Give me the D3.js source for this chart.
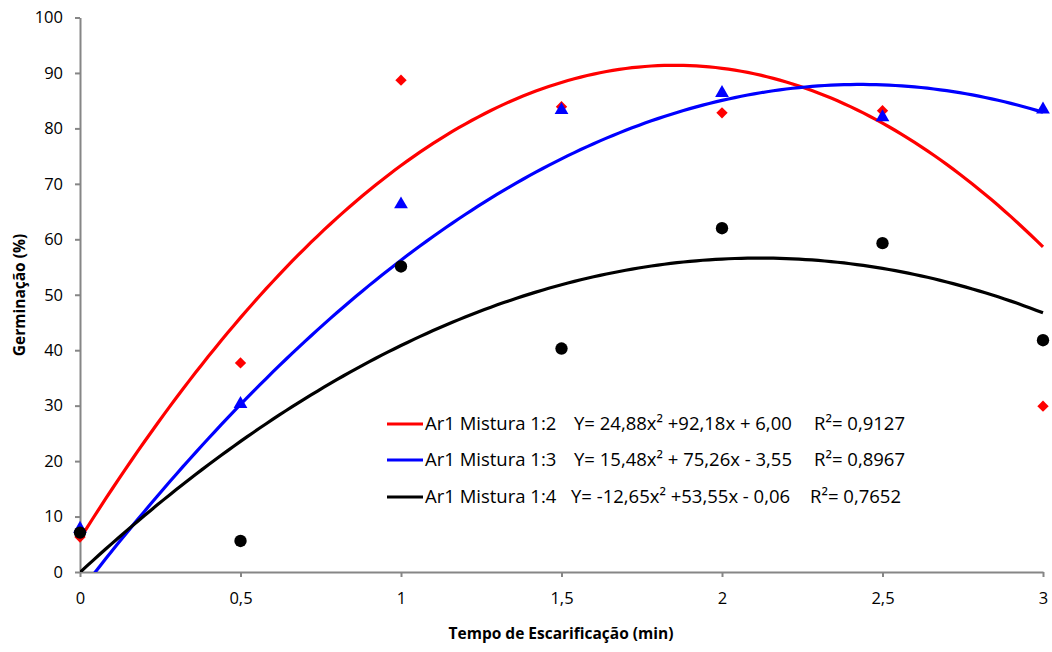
<!DOCTYPE html>
<html>
<head>
<meta charset="utf-8">
<script src="https://cdn.jsdelivr.net/npm/d3@7"></script>
<style>
  body { margin: 0; background: #fff; }
  text { font-family: "Open Sans", Carlito, Calibri, sans-serif; fill: #000; }
</style>
</head>
<body>
<div id="chart"></div>
<script>
var svgWidth = 1052;
var svgHeight = 652;

var margin = { top: 17.5, bottom: 80, right: 9, left: 80 };
var width = 1043 - margin.left;
var height = 572 - margin.top;

// data
var times = [0, 0.5, 1, 1.5, 2, 2.5, 3];
var mix12 = [6.3, 37.7, 88.7, 83.9, 82.8, 83.2, 29.9];
var mix13 = [7.8, 30.3, 66.3, 83.3, 86.4, 82.0, 83.4];
var mix14 = [7.1, 5.6, 55.1, 40.3, 62.0, 59.3, 41.8];

// trendline coefficients (a x² + b x + c)
var fit12 = [-24.88, 92.18, 6.00];
var fit13 = [-15.48, 75.26, -3.55];
var fit14 = [-12.65, 53.55, -0.06];

var xTicks = [0, 0.5, 1, 1.5, 2, 2.5, 3];
var yTicks = [0, 10, 20, 30, 40, 50, 60, 70, 80, 90, 100];

var legendNames = ["Ar1 Mistura 1:2", "Ar1 Mistura 1:3", "Ar1 Mistura 1:4"];
var legendEqs = ["Y= 24,88x\u00B2 +92,18x + 6,00", "Y= 15,48x\u00B2 + 75,26x - 3,55", "Y= -12,65x\u00B2 +53,55x - 0,06"];
var legendR2 = ["R\u00B2= 0,9127", "R\u00B2= 0,8967", "R\u00B2= 0,7652"];

var series = [
  { values: mix12, fit: fit12, color: "#ff0000", shape: d3.symbolSquare, size: 64, rot: 45 },
  { values: mix13, fit: fit13, color: "#0000ff", shape: d3.symbolTriangle, size: 82, rot: 0 },
  { values: mix14, fit: fit14, color: "#000000", shape: d3.symbolCircle, size: 120, rot: 0 }
];

var svg = d3.select("#chart")
  .append("svg")
  .attr("width", svgWidth)
  .attr("height", svgHeight);

var chartGroup = svg.append("g")
  .attr("transform", `translate(${margin.left}, ${margin.top})`);

var xScale = d3.scaleLinear().domain([0, 3]).range([0, width]);
var yScale = d3.scaleLinear().domain([0, 100]).range([height, 0]);

svg.append("defs").append("clipPath").attr("id", "plotClip")
  .append("rect").attr("x", 0).attr("y", -5).attr("width", width + 5).attr("height", height + 5);

// axes
var fmt = d => String(d).replace(".", ",");

var xAxis = chartGroup.append("g")
  .attr("transform", `translate(0, ${height})`)
  .call(d3.axisBottom(xScale).tickValues(xTicks).tickFormat(fmt).tickSize(5).tickPadding(15).tickSizeOuter(0));

var yAxis = chartGroup.append("g")
  .call(d3.axisLeft(yScale).tickValues(yTicks).tickFormat(fmt).tickSize(5).tickPadding(12).tickSizeOuter(0));

[xAxis, yAxis].forEach(function(ax) {
  ax.selectAll("path, line").attr("stroke", "#868686").attr("stroke-width", 2);
  ax.selectAll("text").style("font-size", "16.5px").attr("fill", "#000");
});

// trend lines
var lineGen = d3.line()
  .x(d => xScale(d[0]))
  .y(d => yScale(d[1]));

var plot = chartGroup.append("g").attr("clip-path", "url(#plotClip)");

series.forEach(function(s) {
  var pts = d3.range(0, 3.0001, 0.02).map(function(x) {
    return [x, s.fit[0] * x * x + s.fit[1] * x + s.fit[2]];
  });
  plot.append("path")
    .datum(pts)
    .attr("fill", "none")
    .attr("stroke", s.color)
    .attr("stroke-width", 3.2)
    .attr("d", lineGen);
});

// markers
series.forEach(function(s) {
  chartGroup.append("g").selectAll("path")
    .data(s.values)
    .enter()
    .append("path")
    .attr("transform", (d, i) => `translate(${xScale(times[i])}, ${yScale(d)}) rotate(${s.rot})`)
    .attr("d", d3.symbol().type(s.shape).size(s.size))
    .attr("fill", s.color);
});

// legend
var legendY = [424, 460, 497];
var legend = svg.append("g");
series.forEach(function(s, i) {
  legend.append("line")
    .attr("x1", 387).attr("x2", 423)
    .attr("y1", legendY[i]).attr("y2", legendY[i])
    .attr("stroke", s.color).attr("stroke-width", 3.2);
  legend.append("text")
    .attr("x", 425).attr("y", legendY[i]).attr("dy", "0.35em")
    .style("font-size", "18.5px")
    .text(legendNames[i]);
  legend.append("text")
    .attr("x", i === 2 ? 571 : 574).attr("y", legendY[i]).attr("dy", "0.35em")
    .style("font-size", "18.5px")
    .text(legendEqs[i]);
  legend.append("text")
    .attr("x", [905, 905, 901][i]).attr("y", legendY[i]).attr("dy", "0.35em")
    .attr("text-anchor", "end")
    .style("font-size", "18.5px")
    .text(legendR2[i]);
});

// axis titles
svg.append("text")
  .attr("x", 561).attr("y", 634)
  .attr("dy", "0.35em")
  .attr("text-anchor", "middle")
  .style("font-size", "15.5px").style("font-weight", "bold")
  .text("Tempo de Escarificação (min)");

svg.append("text")
  .attr("transform", "translate(20, 295) rotate(-90)")
  .attr("dy", "0.35em")
  .attr("text-anchor", "middle")
  .style("font-size", "15.5px").style("font-weight", "bold")
  .text("Germinação (%)");
</script>
</body>
</html>
